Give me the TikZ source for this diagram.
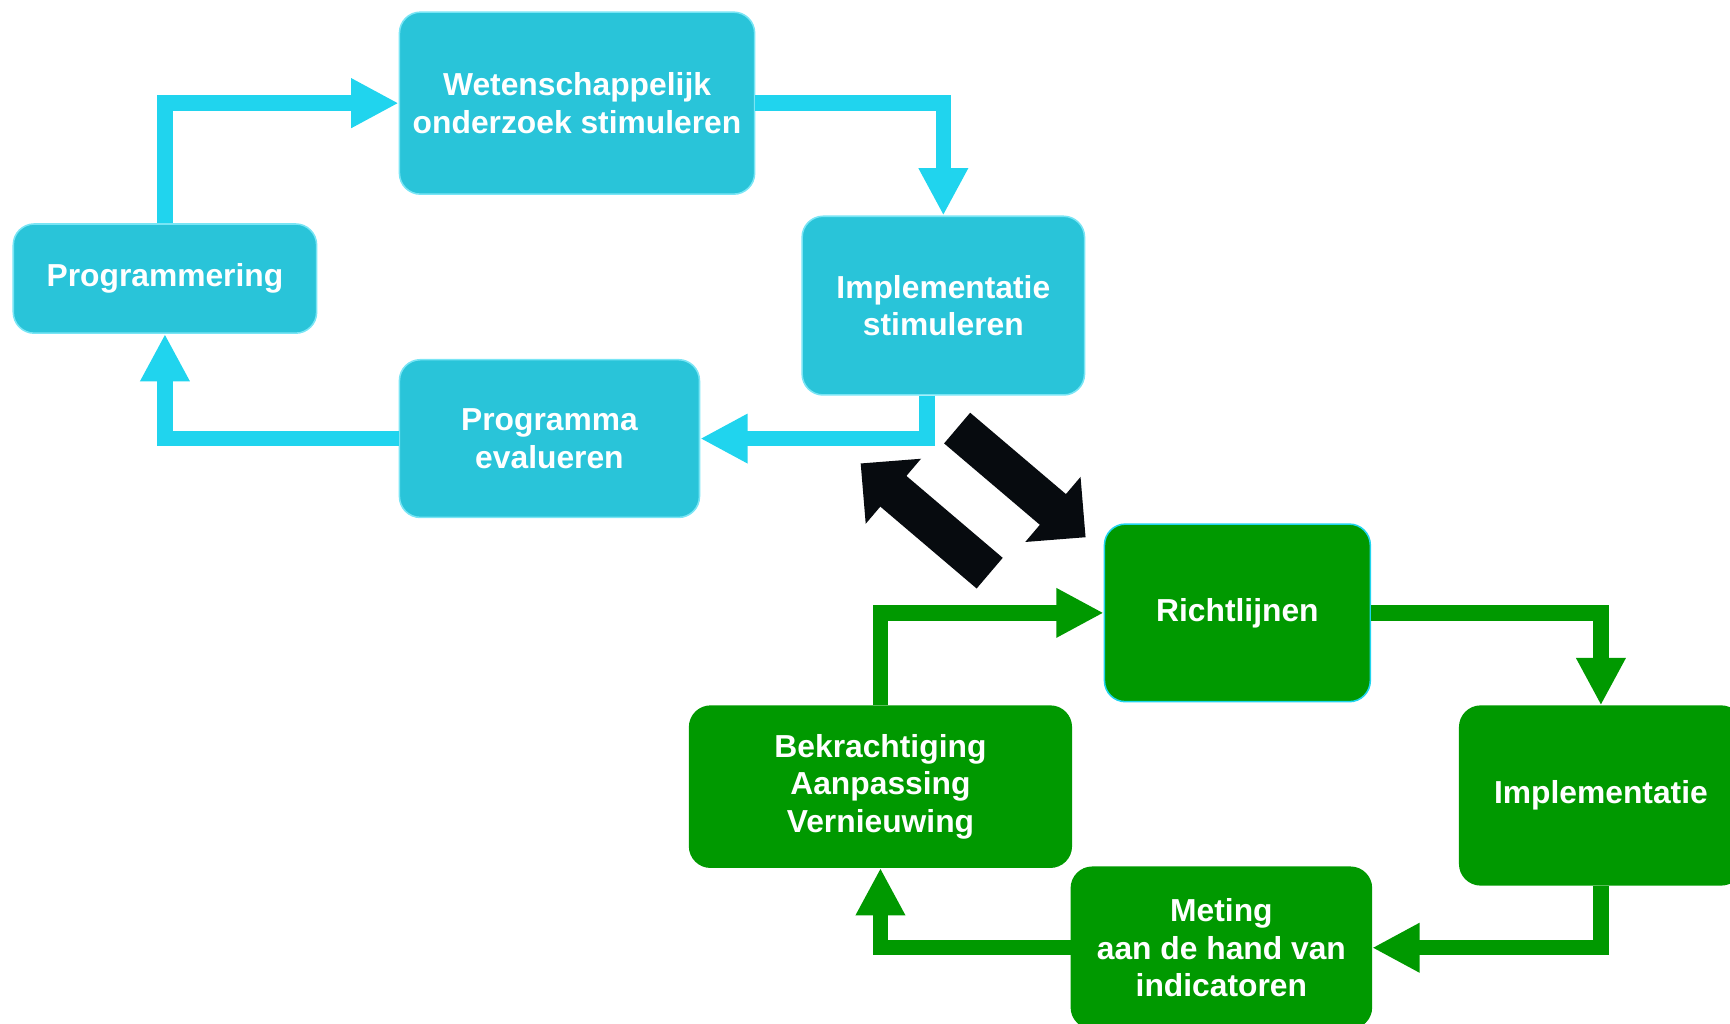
\documentclass[tikz,border=0pt]{standalone}
\usepackage{fontspec}
\setmainfont{Liberation Sans}
\usetikzlibrary{arrows.meta}

\definecolor{boxcyan}{HTML}{29C4D9}
\definecolor{linecyan}{HTML}{20D4EE}
\definecolor{boxgreen}{HTML}{009900}
\definecolor{blockblack}{HTML}{070B0F}

\begin{document}
\begin{tikzpicture}[x=0.02cm, y=-0.02cm, line join=miter]
    \tikzstyle{box}=[rectangle, rounded corners=0.38cm, text=white, align=center, inner sep=0pt, line width=0.8pt, font=\fontsize{16.4}{19.4}\selectfont\bfseries]
    \tikzstyle{research box}=[box, fill=boxcyan, draw=linecyan!60!white]
    \tikzstyle{guideline box}=[box, fill=boxgreen, draw=boxgreen]
    \tikzstyle{flow}=[line width=0.28cm, -{Triangle[length=0.86cm,width=0.84cm]}]
    \tikzstyle{research flow}=[flow, draw=linecyan]
    \tikzstyle{guideline flow}=[flow, draw=boxgreen]
    \tikzstyle{block}=[line width=0.73cm, draw=blockblack, -{Triangle[length=0.78cm,width=1.5cm]}]

    \useasboundingbox (0,0) rectangle (1568,928);
    \clip (0,0) rectangle (1568,928);

    % Draw the research cycle
    \node[research box, minimum width=6.44cm, minimum height=3.30cm] (wetenschap) at (523,93.5) {Wetenschappelijk\\onderzoek stimuleren};
    \node[research box, minimum width=5.50cm, minimum height=1.98cm] (programmering) at (149.5,252.5) {Programmering};
    \node[research box, minimum width=5.12cm, minimum height=3.24cm] (implstim) at (855,277) {Implementatie\\stimuleren};
    \node[research box, minimum width=5.44cm, minimum height=2.86cm] (evaluatie) at (498,397.5) {Programma\\evalueren};

    % Draw the guideline cycle
    \node[guideline box, draw=linecyan, minimum width=4.82cm, minimum height=3.22cm] (richtlijnen) at (1121.5,555.5) {Richtlijnen};
    \node[guideline box, minimum width=5.12cm, minimum height=3.24cm] (implementatie) at (1451,721) {Implementatie};
    \node[guideline box, minimum width=5.44cm, minimum height=2.92cm] (meting) at (1107,859) {Meting\\aan de hand van\\indicatoren};
    \node[guideline box, minimum width=6.92cm, minimum height=2.92cm] (bekrachtiging) at (798,713) {Bekrachtiging\\Aanpassing\\Vernieuwing};

    % Connect the research cycle
    \draw[research flow] (programmering) |- (wetenschap);
    \draw[research flow] (wetenschap) -| (implstim);
    \draw[research flow] ([xshift=-0.3cm]implstim.south) |- (evaluatie);
    \draw[research flow] (evaluatie) -| (programmering);

    % Connect the guideline cycle
    \draw[guideline flow] (bekrachtiging) |- (richtlijnen);
    \draw[guideline flow] (richtlijnen) -| (implementatie);
    \draw[guideline flow] (implementatie) |- (meting);
    \draw[guideline flow] (meting) -| (bekrachtiging);

    % Exchange between the two cycles
    \coordinate (down-tail) at (867.5,388);
    \coordinate (down-tip) at (984,487);
    \coordinate (up-tail) at (897,519.5);
    \coordinate (up-tip) at (780,420);
    \draw[block] (down-tail) -- (down-tip);
    \draw[block] (up-tail) -- (up-tip);
\end{tikzpicture}
\end{document}
